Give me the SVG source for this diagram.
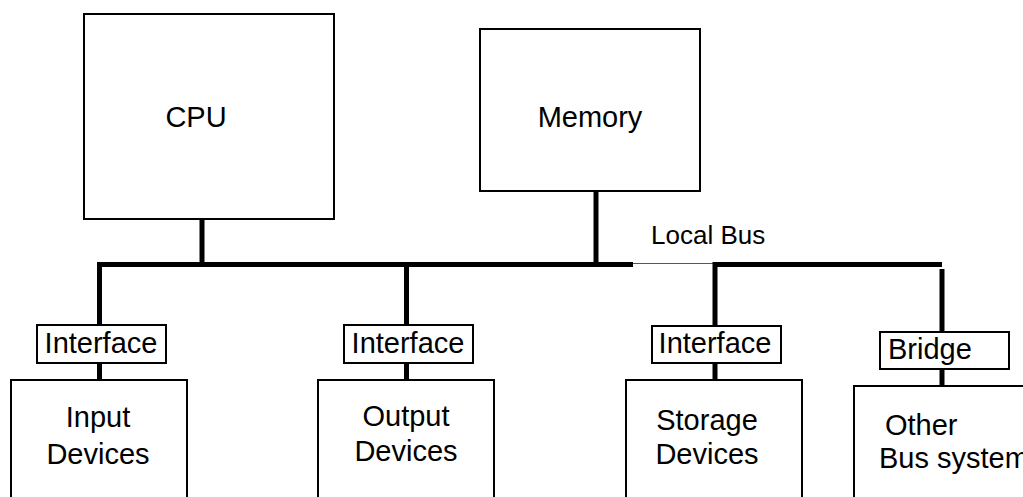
<svg xmlns="http://www.w3.org/2000/svg" width="1023" height="497" viewBox="0 0 1023 497">
<style>
.box{fill:#fff;stroke:#000;stroke-width:2}
.bus{stroke:#000;stroke-width:5;fill:none}
.thin{stroke:#555;stroke-width:1;fill:none}
text{font-family:"Liberation Sans",Arial,sans-serif;font-size:29px;fill:#000}
.mid{text-anchor:middle}
.small{font-size:26px}
</style>
<rect width="1023" height="497" fill="#fff"/>
<g id="connectors">
<line class="bus" x1="202" y1="219" x2="202" y2="264"/>
<line class="bus" x1="596" y1="191" x2="596" y2="264"/>
<polyline class="bus" points="99.5,325 99.5,264.5 633,264.5"/>
<line class="thin" x1="633" y1="263.5" x2="715" y2="263.5"/>
<polyline class="bus" points="715,327 715,264.5 942,264.5"/>
<line class="bus" x1="406.5" y1="264" x2="406.5" y2="325"/>
<line class="bus" x1="942" y1="269" x2="942" y2="332"/>
<line class="bus" x1="99.5" y1="363" x2="99.5" y2="380"/>
<line class="bus" x1="406.5" y1="363" x2="406.5" y2="380"/>
<line class="bus" x1="715" y1="363" x2="715" y2="380"/>
<line class="bus" x1="942" y1="369" x2="942" y2="386"/>
</g>
<g id="cpu">
<rect class="box" x="84" y="14" width="250" height="205"/>
<text class="mid" x="196" y="127">CPU</text>
</g>
<g id="memory">
<rect class="box" x="480" y="29" width="220" height="162"/>
<text class="mid" x="590" y="127">Memory</text>
</g>
<g id="local-bus-label">
<text class="small" x="651" y="244">Local Bus</text>
</g>
<g id="interface-input">
<rect class="box" x="37" y="325" width="129" height="38"/>
<text class="mid" x="101" y="353">Interface</text>
</g>
<g id="interface-output">
<rect class="box" x="344" y="325" width="129" height="38"/>
<text class="mid" x="408" y="353">Interface</text>
</g>
<g id="interface-storage">
<rect class="box" x="652" y="326" width="129" height="37"/>
<text class="mid" x="715" y="353">Interface</text>
</g>
<g id="bridge">
<rect class="box" x="880" y="332" width="129" height="37"/>
<text x="888" y="359">Bridge</text>
</g>
<g id="input-devices">
<rect class="box" x="11" y="380" width="176" height="130"/>
<text class="mid" x="98" y="427">Input</text>
<text class="mid" x="98" y="464">Devices</text>
</g>
<g id="output-devices">
<rect class="box" x="318" y="380" width="176" height="130"/>
<text class="mid" x="406" y="426">Output</text>
<text class="mid" x="406" y="461">Devices</text>
</g>
<g id="storage-devices">
<rect class="box" x="626" y="380" width="176" height="130"/>
<text class="mid" x="707" y="430">Storage</text>
<text class="mid" x="707" y="464">Devices</text>
</g>
<g id="other-bus">
<rect class="box" x="854" y="386" width="200" height="130"/>
<text x="885" y="435">Other</text>
<text x="879" y="468">Bus system</text>
</g>
</svg>
